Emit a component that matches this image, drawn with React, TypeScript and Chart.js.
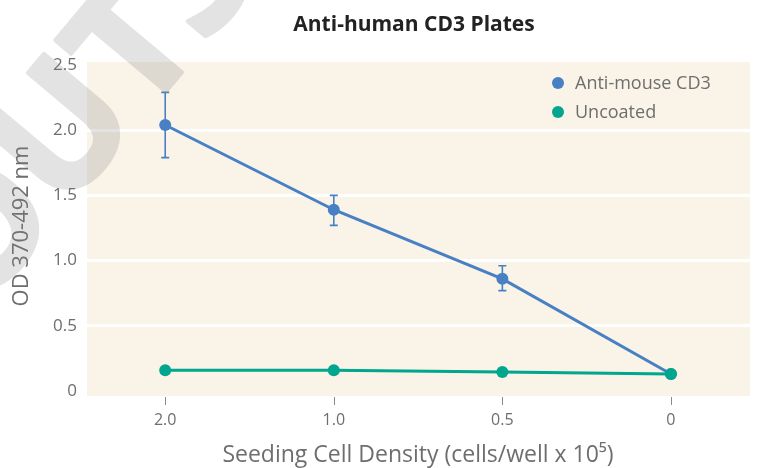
import React, { useEffect, useRef } from "react";
import { Chart, registerables } from "chart.js";

Chart.register(...registerables);

const xLabels = ["2.0", "1.0", "0.5", "0"];
const antiMouseCD3 = [2.04, 1.39, 0.86, 0.13];
const antiMouseErrHigh = [2.29, 1.5, 0.96, null];
const antiMouseErrLow = [1.79, 1.27, 0.77, null];
const uncoated = [0.16, 0.16, 0.145, 0.13];
const yTicks = [0, 0.5, 1, 1.5, 2, 2.5];

const titleText = "Anti-human CD3 Plates";
const xTitle = "Seeding Cell Density (cells/well x 10\u2075)";
const yTitle = "OD 370-492 nm";
const seriesNames = ["Anti-mouse CD3", "Uncoated"];
const watermarkLetters = ["O", "U", "T", "S"];

const BLUE = "#4880C4";
const GREEN = "#00A68D";
const GRAY = "#6E6E6E";
const FONT = "'Open Sans', 'Noto Sans', sans-serif";

function drawWatermark(ctx: CanvasRenderingContext2D, w: number, h: number) {
  const off = document.createElement("canvas");
  off.width = w;
  off.height = h;
  const o = off.getContext("2d") as CanvasRenderingContext2D;
  o.font = `bold 165px ${FONT}`;
  const widths = watermarkLetters.map((l) => o.measureText(l).width);
  const tIndex = 2;
  let acc = 0;
  const centers = widths.map((wd) => {
    const c = acc + wd / 2;
    acc += wd;
    return c;
  });
  const base = centers[tIndex];
  o.translate(174, 82);
  o.rotate((-50 * Math.PI) / 180);
  o.fillStyle = "#808080";
  o.strokeStyle = "#808080";
  o.lineWidth = 4;
  o.lineJoin = "round";
  o.textAlign = "center";
  o.textBaseline = "alphabetic";
  watermarkLetters.forEach((l, i) => {
    o.fillText(l, centers[i] - base, 0);
    o.strokeText(l, centers[i] - base, 0);
  });
  ctx.save();
  ctx.globalAlpha = 0.22;
  ctx.drawImage(off, 0, 0);
  ctx.restore();
}

const decorPlugin = {
  id: "decor",
  beforeDraw(chart: any) {
    const { ctx, chartArea } = chart;
    ctx.save();
    ctx.fillStyle = "#FAF3E8";
    ctx.fillRect(chartArea.left, chartArea.top - 3, chartArea.right - chartArea.left, chartArea.bottom - chartArea.top + 8);
    ctx.restore();
  },
  afterDatasetsDraw(chart: any) {
    const { ctx } = chart;
    const xs = chart.scales.x;
    const ys = chart.scales.y;
    ctx.save();
    ctx.strokeStyle = BLUE;
    ctx.lineWidth = 1.6;
    antiMouseCD3.forEach((_, i) => {
      const hi = antiMouseErrHigh[i];
      const lo = antiMouseErrLow[i];
      if (hi == null || lo == null) return;
      const x = xs.getPixelForValue(i);
      const yh = ys.getPixelForValue(hi);
      const yl = ys.getPixelForValue(lo);
      ctx.beginPath();
      ctx.moveTo(x, yh);
      ctx.lineTo(x, yl);
      ctx.moveTo(x - 4, yh);
      ctx.lineTo(x + 4, yh);
      ctx.moveTo(x - 4, yl);
      ctx.lineTo(x + 4, yl);
      ctx.stroke();
    });
    ctx.restore();
  },
  afterDraw(chart: any) {
    const { ctx, chartArea } = chart;
    const xs = chart.scales.x;
    ctx.save();
    // x tick marks
    ctx.strokeStyle = "#8a8a8a";
    ctx.lineWidth = 1;
    xLabels.forEach((_, i) => {
      const x = Math.round(xs.getPixelForValue(i)) + 0.5;
      ctx.beginPath();
      ctx.moveTo(x, chartArea.bottom + 6);
      ctx.lineTo(x, chartArea.bottom + 14);
      ctx.stroke();
    });
    // title
    ctx.fillStyle = "#222222";
    ctx.font = `bold 21px ${FONT}`;
    ctx.textAlign = "center";
    ctx.textBaseline = "middle";
    ctx.fillText(titleText, 414, 25);
    // x title
    ctx.fillStyle = GRAY;
    ctx.font = `23px ${FONT}`;
    ctx.fillText(xTitle, 418, 455, 399);
    // y title
    ctx.save();
    ctx.translate(22, 226);
    ctx.rotate(-Math.PI / 2);
    ctx.font = `22px ${FONT}`;
    ctx.fillText(yTitle, 0, 0, 170);
    ctx.restore();
    // legend
    const colors = [BLUE, GREEN];
    ctx.textAlign = "left";
    ctx.font = `18px ${FONT}`;
    seriesNames.forEach((name, i) => {
      const y = 83 + i * 29;
      ctx.fillStyle = colors[i];
      ctx.beginPath();
      ctx.arc(558, y, 6, 0, Math.PI * 2);
      ctx.fill();
      ctx.fillStyle = GRAY;
      ctx.fillText(name, 575, y + 1, 136);
    });
    ctx.restore();
    drawWatermark(ctx, chart.width, chart.height);
  },
};

export default function App() {
  const ref = useRef<HTMLCanvasElement | null>(null);
  useEffect(() => {
    document.body.style.margin = "0";
    if (!ref.current) return;
    const chart = new Chart(ref.current, {
      type: "line",
      data: {
        datasets: [
          {
            label: seriesNames[0],
            data: antiMouseCD3.map((v, i) => ({ x: i, y: v })),
            borderColor: BLUE,
            backgroundColor: BLUE,
            borderWidth: 3,
            pointRadius: 6,
            pointBorderWidth: 0,
            order: 1,
          },
          {
            label: seriesNames[1],
            data: uncoated.map((v, i) => ({ x: i, y: v })),
            borderColor: GREEN,
            backgroundColor: GREEN,
            borderWidth: 3,
            pointRadius: 6,
            pointBorderWidth: 0,
            order: 0,
          },
        ],
      },
      options: {
        animation: false,
        responsive: true,
        maintainAspectRatio: false,
        layout: { padding: { top: 65, right: 8, left: 0, bottom: 0 } },
        plugins: {
          legend: { display: false },
          title: { display: false },
          tooltip: { enabled: false },
        },
        scales: {
          x: {
            type: "linear",
            min: -0.464,
            max: 3.469,
            afterFit: (s: any) => {
              s.height = 77;
            },
            afterBuildTicks: (s: any) => {
              s.ticks = xLabels.map((_, i) => ({ value: i }));
            },
            ticks: {
              callback: (v: any) => xLabels[v as number] ?? "",
              color: GRAY,
              font: { family: FONT, size: 16 },
              padding: 12,
              maxRotation: 0,
            },
            grid: { display: false },
            border: { display: false },
          },
          y: {
            min: 0,
            max: 2.5,
            afterFit: (s: any) => {
              s.width = 87;
            },
            afterBuildTicks: (s: any) => {
              s.ticks = yTicks.map((v) => ({ value: v }));
            },
            ticks: {
              callback: (v: any) => (v === 0 ? "0" : Number(v).toFixed(1)),
              color: GRAY,
              font: { family: FONT, size: 17 },
              padding: 10,
            },
            grid: {
              color: (c: any) => (c.tick && (c.tick.value === 0 || c.tick.value === 2.5) ? "rgba(0,0,0,0)" : "#FFFFFF"),
              lineWidth: 3,
              drawTicks: false,
            },
            border: { display: false },
          },
        },
      },
      plugins: [decorPlugin],
    });
    return () => chart.destroy();
  }, []);
  return (
    <div style={{ width: 758, height: 468, position: "relative" }}>
      <canvas ref={ref} />
    </div>
  );
}
